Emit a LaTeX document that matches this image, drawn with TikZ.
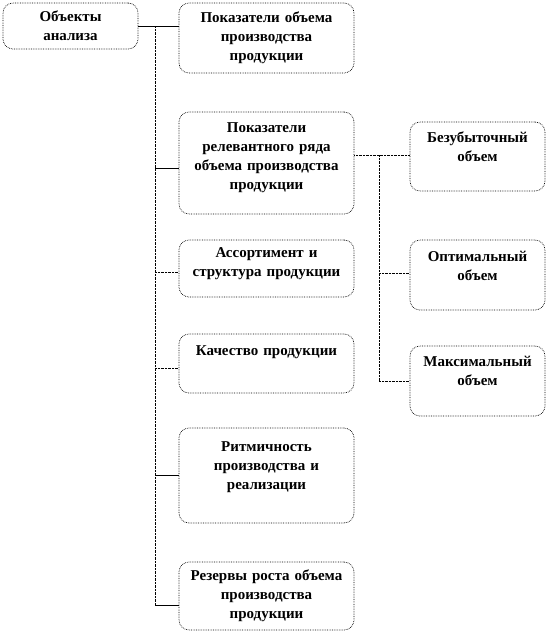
\documentclass[tikz,border=0pt]{standalone}
\usepackage{fontspec}
\setmainfont{Liberation Serif}
\usetikzlibrary{positioning,calc}
\tikzset{
  objbox/.style={draw, densely dotted, line width=0.7pt, rounded corners=10pt, align=center, inner sep=2pt, font=\fontsize{15}{19}\selectfont\bfseries},
  widebox/.style={objbox, minimum width=175pt, text width=168pt},
  sidebox/.style={objbox, minimum width=135pt, text width=130pt},
  objline/.style={thin},
  objdot/.style={thin, densely dotted}
}
\begin{document}
\begin{tikzpicture}[x=1pt, y=-1pt]
\useasboundingbox (0,0) rectangle (550,633);
% left column
\node[objbox, minimum width=135pt, minimum height=46pt, text width=128pt] (obj) at (70.5,26) {Объекты\\анализа};
\node[widebox, minimum height=70pt] (pok) at (266.5,38) {Показатели объема\\производства\\продукции};
\node[widebox, minimum height=102pt, text depth=70pt] (rel) at (266.5,163) {Показатели\\релевантного ряда\\объема производства\\продукции};
\node[widebox, minimum height=57pt, text depth=31pt] (ass) at (266.5,268.5) {Ассортимент и\\структура продукции};
\node[widebox, minimum height=59pt, text depth=26pt] (kach) at (266.5,363.5) {Качество продукции};
\node[widebox, minimum height=95pt, text depth=58pt] (ritm) at (266.5,475.5) {Ритмичность\\производства и\\реализации};
\node[widebox, minimum height=68pt] (rez) at (266.5,596) {Резервы роста объема\\производства\\продукции};
% right column
\node[sidebox, minimum height=69pt, text depth=39pt] (bez) at (477.5,156.5) {Безубыточный\\объем};
\node[sidebox, minimum height=70pt, text depth=38pt] (opt) at (477.5,275) {Оптимальный\\объем};
\node[sidebox, minimum height=70pt, text depth=39pt] (max) at (477.5,381) {Максимальный\\объем};
% trunk lines
\coordinate (trunk) at (155,0);
\coordinate (sub) at (379,0);
\draw[objline] (obj.east) -- (obj.east -| pok.west);
\draw[objdot] (obj.east -| trunk) -- ([yshift=-9pt]rez.west -| trunk);
\draw[objline] ([yshift=-5pt]rel.west -| trunk) -- ([yshift=-5pt]rel.west);
\draw[objdot] ([yshift=-3.5pt]ass.west -| trunk) -- ([yshift=-3.5pt]ass.west);
\draw[objdot] ([yshift=-4.5pt]kach.west -| trunk) -- ([yshift=-4.5pt]kach.west);
\draw[objline] (ritm.west -| trunk) -- (ritm.west);
\draw[objline] ([yshift=-9pt]rez.west -| trunk) -- ([yshift=-9pt]rez.west);
\draw[objdot] ([yshift=8pt]rel.east) -- ([yshift=8pt]rel.east -| bez.west);
\draw[objdot] ([yshift=8pt]rel.east -| sub) -- (max.west -| sub);
\draw[objdot] ([yshift=2pt]opt.west -| sub) -- ([yshift=2pt]opt.west);
\draw[objdot] (max.west -| sub) -- (max.west);
\end{tikzpicture}
\end{document}
